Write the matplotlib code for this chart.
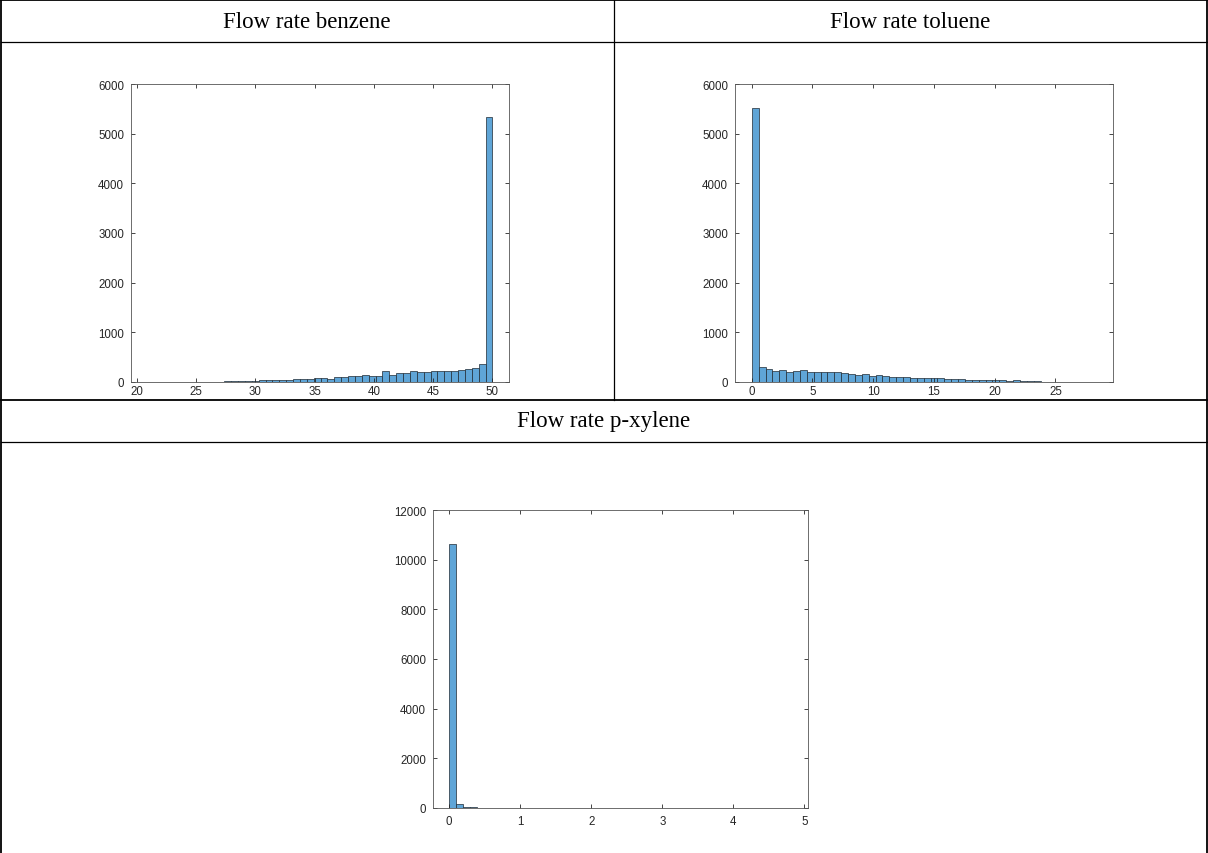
import numpy as np
import matplotlib
matplotlib.use("Agg")
import matplotlib.pyplot as plt
from matplotlib.lines import Line2D

# ---------------- data ----------------
titles = ["Flow rate benzene", "Flow rate toluene", "Flow rate p-xylene"]

benzene_min, benzene_width = 21.0, 0.58
benzene_counts = [2, 2, 3, 3, 4, 4, 5, 6, 7, 8, 10, 12, 13, 15, 27, 30, 40, 40,
                  42, 47, 50, 67, 65, 70, 80, 80, 62, 94, 94, 114, 127, 150, 127,
                  127, 220, 140, 187, 187, 214, 194, 200, 220, 220, 220, 220, 250,
                  254, 287, 367, 5330]

toluene_min, toluene_width = 0.0, 0.566
toluene_counts = [5520, 310, 255, 230, 235, 205, 228, 235, 203, 200, 200, 207,
                  200, 173, 167, 147, 158, 116, 140, 127, 107, 94, 100, 75, 80,
                  75, 78, 72, 68, 60, 55, 50, 48, 45, 42, 38, 34, 30, 32, 25, 15,
                  12, 8, 6, 5, 4, 3, 3, 2, 2]

xylene_min, xylene_width = 0.0, 0.098
xylene_counts = [10650, 160, 50, 25, 12, 8, 6, 5, 4, 3, 3, 2, 2, 2, 2, 1, 1, 1,
                 1, 1, 1, 1, 1, 1, 1, 1, 1, 1, 1, 1, 1, 1, 1, 1, 1, 1, 1, 1, 1,
                 1, 1, 1, 1, 1, 1, 1, 1, 1, 1, 1]

benzene_xticks = [20, 25, 30, 35, 40, 45, 50]
toluene_xticks = [0, 5, 10, 15, 20, 25]
xylene_xticks = [0, 1, 2, 3, 4, 5]
yticks_6k = [0, 1000, 2000, 3000, 4000, 5000, 6000]
yticks_12k = [0, 2000, 4000, 6000, 8000, 10000, 12000]

# ---------------- figure ----------------
W, H = 1208, 854
fig = plt.figure(figsize=(W / 100, H / 100), dpi=100)
fig.patch.set_facecolor("white")

def px_rect(left, top, right, bottom):
    return [left / W, 1 - bottom / H, (right - left) / W, (bottom - top) / H]

FACE = "#5FA5D7"
EDGE = "#1f2a33"
AXC = "#262626"

def hist_panel(rect, xmin, width, counts, xlim, ylim, xticks, yticks, xpad):
    ax = fig.add_axes(rect)
    counts = np.asarray(counts, dtype=float)
    edges = xmin + width * np.arange(len(counts) + 1)
    ax.hist(edges[:-1], bins=edges, weights=counts, color=FACE,
            edgecolor=EDGE, linewidth=0.5)
    ax.set_xlim(*xlim)
    ax.set_ylim(*ylim)
    ax.set_xticks(xticks)
    ax.set_yticks(yticks)
    ax.tick_params(direction="in", length=3, width=0.6, colors=AXC,
                   labelsize=8.3, top=True, right=True)
    ax.tick_params(axis="y", pad=5)
    ax.tick_params(axis="x", pad=xpad)
    for sp in ax.spines.values():
        sp.set_color("#555555")
        sp.set_linewidth(0.6)
    for lab in ax.get_xticklabels() + ax.get_yticklabels():
        lab.set_color(AXC)
        lab.set_family("Liberation Sans")
    return ax

hist_panel(px_rect(131, 85, 509, 383), benzene_min, benzene_width,
           benzene_counts, (19.5, 51.4), (0, 6000), benzene_xticks, yticks_6k, 2.5)
hist_panel(px_rect(735, 85, 1113, 383), toluene_min, toluene_width,
           toluene_counts, (-1.38, 29.74), (0, 6000), toluene_xticks, yticks_6k, 2.5)
hist_panel(px_rect(433, 511, 808, 809), xylene_min, xylene_width,
           xylene_counts, (-0.225, 5.05), (0, 12000), xylene_xticks, yticks_12k, 5)

# ---------------- table grid ----------------
def hline(y, x0, x1, lw=1.3):
    fig.add_artist(Line2D([x0 / W, x1 / W], [1 - y / H, 1 - y / H],
                          color="black", linewidth=lw, zorder=0))

def vline(x, y0, y1, lw=1.3):
    fig.add_artist(Line2D([x / W, x / W], [1 - y0 / H, 1 - y1 / H],
                          color="black", linewidth=lw, zorder=0))

hline(1, 1, 1207)
hline(43, 1, 1207, lw=0.9)
hline(401, 1, 1207)
hline(443, 1, 1207, lw=0.9)
vline(1.2, 1, 854)
vline(1206.5, 1, 854)
vline(614, 1, 401, lw=0.9)

serif = ["Liberation Serif", "DejaVu Serif"]
fig.text(307 / W, 1 - 22 / H, titles[0], ha="center", va="center",
         fontsize=16.5, family=serif)
fig.text(910 / W, 1 - 22 / H, titles[1], ha="center", va="center",
         fontsize=16.5, family=serif)
fig.text(604 / W, 1 - 422 / H, titles[2], ha="center", va="center",
         fontsize=16.5, family=serif)

fig.savefig("out.png", dpi=100, facecolor="white")
